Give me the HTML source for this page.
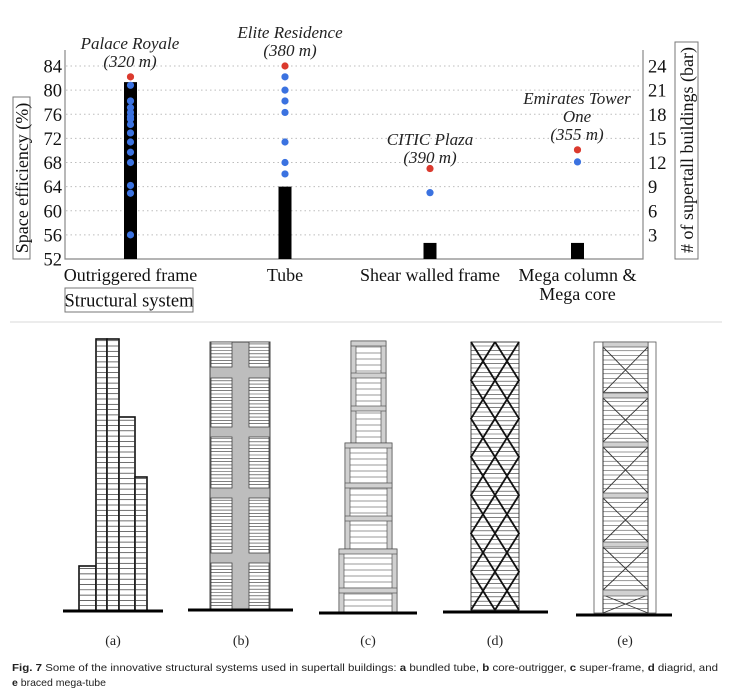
<!DOCTYPE html>
<html><head><meta charset="utf-8"><style>
html,body{margin:0;padding:0;background:#fff;}
svg{display:block;}
.serif{font-family:"Liberation Serif",serif;}
</style></head><body>
<svg id="fig" width="733" height="696" viewBox="0 0 733 696" xmlns="http://www.w3.org/2000/svg">
<g id="chart"></g>
<line x1="10" y1="322" x2="722" y2="322" stroke="#d8d8d8" stroke-width="1"/>
<g id="draw"></g>
<g font-family="'Liberation Sans',sans-serif" font-size="10.5" fill="#222">
<text x="12" y="671" textLength="706" lengthAdjust="spacingAndGlyphs"><tspan font-weight="bold">Fig. 7</tspan>  Some of the innovative structural systems used in supertall buildings: <tspan font-weight="bold">a</tspan> bundled tube, <tspan font-weight="bold">b</tspan> core-outrigger, <tspan font-weight="bold">c</tspan> super-frame, <tspan font-weight="bold">d</tspan> diagrid, and</text>
<text x="12" y="686"><tspan font-weight="bold">e</tspan> braced mega-tube</text>
</g>
</svg>
<script>
const categories = ["Outrigger frame","Tube","Shear walled frame","Mega column & Mega core"];
const barCounts = [22, 9, 2, 2];
const blueEfficiency = [
  [80.8,78.2,77.1,76.3,75.6,75.2,74.3,72.9,71.4,69.7,68.0,64.2,62.9,56.0],
  [82.2,80.0,78.2,76.3,71.4,68.0,66.1],
  [63.0],
  [68.1]
];
const redEfficiency = [82.2, 84.0, 67.0, 70.1];
const leftTicks = [52,56,60,64,68,72,76,80,84];
const rightTicks = [3,6,9,12,15,18,21,24];
const highlightNames = [["Palace Royale","(320 m)"],["Elite Residence","(380 m)"],["CITIC Plaza","(390 m)"],["Emirates Tower","One","(355 m)"]];

const NS = "http://www.w3.org/2000/svg";
function mk(parent, tag, attrs, text){
  const e = document.createElementNS(NS, tag);
  for (const k in attrs) e.setAttribute(k, attrs[k]);
  if (text !== undefined) e.textContent = text;
  parent.appendChild(e);
  return e;
}
const X0 = 65, X1 = 643, YB = 259;
function yL(v){ return YB - (v - 52) * (193/32); }
function yR(n){ return YB - n * 8.04; }
const catX = [130.5, 285, 430, 577.5];
function xC(i){ return catX[i]; }

const chart = document.getElementById('chart');
leftTicks.forEach(t => {
  if (t === 52) return;
  const g = mk(chart, 'line', {x1:X0+1, x2:X1-1, y1:yL(t), y2:yL(t), stroke:'#bdbdbd', 'stroke-width':1, 'stroke-dasharray':'1.5 3'});
  
  
});
let ax = mk(chart, 'path', {d:`M${X0},50 V${YB} H${X1} V50`, fill:'none', stroke:'#888', 'stroke-width':1.2});


leftTicks.forEach(t => {
  const e = mk(chart, 'text', {x:62, y:yL(t)+6.5, 'text-anchor':'end', class:'serif', 'font-size':18.5, fill:'#111'}, String(t));
  
  
});
rightTicks.forEach(t => {
  const e = mk(chart, 'text', {x:648, y:yR(t)+6.5, 'text-anchor':'start', class:'serif', 'font-size':18.5, fill:'#111'}, String(t));
  
  
});
barCounts.forEach((n, i) => {
  const b = mk(chart, 'rect', {x:xC(i)-6.5, y:yR(n), width:13, height:YB-yR(n), fill:'#000'});
  
  
});
blueEfficiency.forEach((arr, i) => {
  arr.forEach(v => {
    const c = mk(chart, 'circle', {cx:xC(i), cy:yL(v), r:3.6, fill:'#3b72e0'});
    
    
  });
});
redEfficiency.forEach((v, i) => {
  const c = mk(chart, 'circle', {cx:xC(i), cy:yL(v), r:3.6, fill:'#db3a2e'});
  
  
});
const annTop = [49, 38, 145, 104];
const annX = [130, 290, 430, 577];
highlightNames.forEach((lines, i) => {
  lines.forEach((s, j) => {
    const t = mk(chart, 'text', {x:annX[i], y:annTop[i] + j*18, 'text-anchor':'middle', class:'serif', 'font-style':'italic', 'font-size':17, fill:'#222'}, s);
    
    
  });
});
const catLines = [["Outriggered frame"],["Tube"],["Shear walled frame"],["Mega column &","Mega core"]];
catLines.forEach((lines, i) => {
  lines.forEach((s, j) => {
    const t = mk(chart, 'text', {x:xC(i), y:281 + j*19, 'text-anchor':'middle', class:'serif', 'font-size':18, fill:'#111'}, s);
    
    
  });
});
let r = mk(chart, 'rect', {x:13, y:97, width:17, height:162, fill:'#fff', stroke:'#777', 'stroke-width':1});
 
let yt = mk(chart, 'text', {x:0, y:0, transform:'translate(28,178) rotate(-90)', 'text-anchor':'middle', class:'serif', 'font-size':18, fill:'#111'}, 'Space efficiency (%)');
 
r = mk(chart, 'rect', {x:675, y:42, width:23, height:217, fill:'#fff', stroke:'#777', 'stroke-width':1});
 
yt = mk(chart, 'text', {x:0, y:0, transform:'translate(693,150) rotate(-90)', 'text-anchor':'middle', class:'serif', 'font-size':18, fill:'#111'}, '# of supertall buildings (bar)');
 
r = mk(chart, 'rect', {x:65, y:288, width:128, height:24, fill:'#fff', stroke:'#777', 'stroke-width':1});
 
yt = mk(chart, 'text', {x:129, y:306.5, 'text-anchor':'middle', class:'serif', 'font-size':18.5, fill:'#111'}, 'Structural system');
 

const D = document.getElementById('draw');
function floors(g, x1, x2, y1, y2, step, w){
  for (let y = y2 - step; y > y1 + 0.5; y -= step) mk(g, 'line', {x1, x2, y1:y, y2:y, stroke:'#333', 'stroke-width':w||0.7});
}
function ground(g, x1, x2, y){ mk(g, 'rect', {x:x1, y:y-1.5, width:x2-x1, height:3, fill:'#000'}); }

let ga = mk(D, 'g', {});  
[[79,96,566],[96,107,339],[107,119,339],[119,135,417],[135,147,477]].forEach(c => {
  mk(ga, 'rect', {x:c[0], y:c[2], width:c[1]-c[0], height:611-c[2], fill:'#fff', stroke:'#111', 'stroke-width':1.6});
  floors(ga, c[0], c[1], c[2], 611, 5.3, 0.7);
});
ground(ga, 63, 163, 611);

let gb = mk(D, 'g', {});  
mk(gb, 'rect', {x:210, y:342, width:60, height:267, fill:'#bdbdbd', stroke:'#444', 'stroke-width':1});
[[342,367],[378,427],[437,488],[498,553],[563,609]].forEach(b => {
  [[211,232],[249,269]].forEach(xx => {
    mk(gb, 'rect', {x:xx[0], y:b[0], width:xx[1]-xx[0], height:b[1]-b[0], fill:'#fff', stroke:'#444', 'stroke-width':0.8});
    floors(gb, xx[0], xx[1], b[0], b[1], 3.3, 0.6);
  });
});
ground(gb, 188, 293, 610);

let gc = mk(D, 'g', {});  
function truss(g, x, y, w, h){ mk(g, 'rect', {x, y, width:w, height:h, fill:'#d0d0d0', stroke:'#555', 'stroke-width':0.7}); }
[[351,386,341,443,[341,373,406]],[345,392,443,549,[443,483,516]],[339,397,549,612,[549,588]]].forEach(s => {
  const [x1,x2,y1,y2,bands] = s;
  mk(gc, 'rect', {x:x1, y:y1, width:x2-x1, height:y2-y1, fill:'#fff', stroke:'#444', 'stroke-width':0.8});
  floors(gc, x1, x2, y1, y2, 6, 0.6);
  truss(gc, x1, y1, 5, y2-y1); truss(gc, x2-5, y1, 5, y2-y1);
  bands.forEach(b => truss(gc, x1, b, x2-x1, 5));
});
ground(gc, 319, 417, 613);

let gd = mk(D, 'g', {});  
mk(gd, 'rect', {x:471, y:342, width:48, height:268, fill:'#fff', stroke:'#444', 'stroke-width':1});
floors(gd, 471, 519, 342, 610, 4.4, 0.6);
(function(){
  const n = 7, H = 268 / n; let p1 = '', p2 = '', p3 = '', p4 = '';
  for (let k = 0; k <= n; k++) {
    const y = 342 + k*H;
    const a = k%2===0 ? 471 : 495, b = k%2===0 ? 495 : 471;
    const c = k%2===0 ? 495 : 519, d = k%2===0 ? 519 : 495;
    p1 += (k?'L':'M') + a + ',' + y; p2 += (k?'L':'M') + b + ',' + y;
    p3 += (k?'L':'M') + c + ',' + y; p4 += (k?'L':'M') + d + ',' + y;
  }
  [p1,p2,p3,p4].forEach(p => mk(gd, 'path', {d:p, fill:'none', stroke:'#111', 'stroke-width':1.8}));
})();
ground(gd, 443, 548, 612);

let ge = mk(D, 'g', {});  
mk(ge, 'rect', {x:594, y:342, width:62, height:271, fill:'#fff', stroke:'#555', 'stroke-width':0.8});
mk(ge, 'line', {x1:603, x2:603, y1:342, y2:613, stroke:'#333', 'stroke-width':1});
mk(ge, 'line', {x1:648, x2:648, y1:342, y2:613, stroke:'#333', 'stroke-width':1});
floors(ge, 603, 648, 342, 613, 4.6, 0.5);
const eb = [342, 393, 442, 493, 542, 590];
for (let k = 0; k < 5; k++) {
  const y1 = eb[k]+5, y2 = eb[k+1];
  mk(ge, 'path', {d:`M603,${y1}L648,${y2}M648,${y1}L603,${y2}`, stroke:'#333', 'stroke-width':0.9, fill:'none'});
}
mk(ge, 'path', {d:`M603,595L648,613M648,595L603,613`, stroke:'#333', 'stroke-width':0.9, fill:'none'});
eb.forEach(b => truss(ge, 603, b, 45, b===590?6:5));
ground(ge, 576, 672, 615);

['(a)','(b)','(c)','(d)','(e)'].forEach((s,i) => {
  const t = mk(D, 'text', {x:[113,241,368,495,625][i], y:645, 'text-anchor':'middle', class:'serif', 'font-size':14, fill:'#222'}, s);
  
  
});
</script>
</body></html>
